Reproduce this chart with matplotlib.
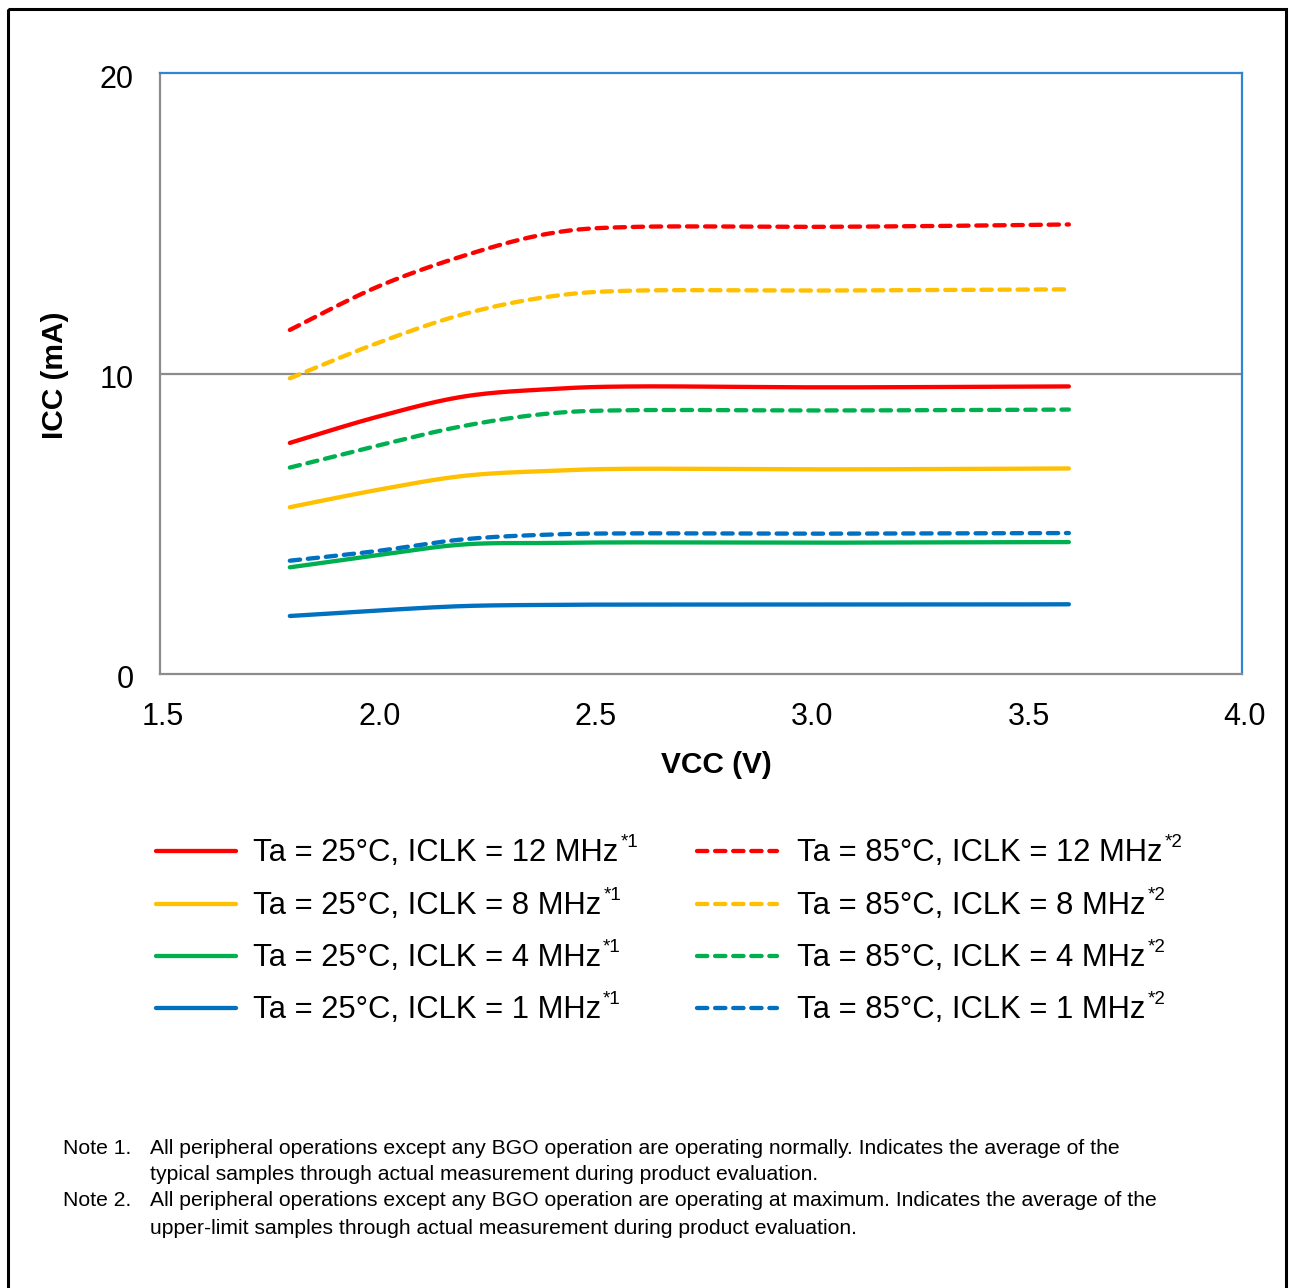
import numpy as np
import matplotlib
matplotlib.use("Agg")
import matplotlib.pyplot as plt
from matplotlib.lines import Line2D
from matplotlib.patches import Rectangle
from matplotlib.transforms import ScaledTranslation

plt.rcParams['font.family'] = ['Liberation Sans', 'DejaVu Sans']

# ---------------- data ----------------
vcc = [1.8, 2.0, 2.2, 2.4, 2.6, 3.0, 3.3, 3.6]
icc_25_12 = [7.69, 8.55, 9.23, 9.48, 9.57, 9.54, 9.55, 9.57]
icc_25_8 = [5.55, 6.12, 6.59, 6.76, 6.83, 6.81, 6.82, 6.84]
icc_25_4 = [3.55, 3.95, 4.31, 4.36, 4.38, 4.37, 4.38, 4.39]
icc_25_1 = [1.93, 2.11, 2.26, 2.30, 2.31, 2.31, 2.31, 2.32]
icc_85_12 = [11.45, 12.87, 13.91, 14.66, 14.88, 14.88, 14.91, 14.96]
icc_85_8 = [9.84, 11.00, 11.97, 12.56, 12.76, 12.76, 12.78, 12.80]
icc_85_4 = [6.87, 7.59, 8.25, 8.67, 8.78, 8.77, 8.78, 8.80]
icc_85_1 = [3.77, 4.09, 4.48, 4.64, 4.68, 4.67, 4.68, 4.69]

labels_25 = ["Ta = 25°C, ICLK = 12 MHz", "Ta = 25°C, ICLK = 8 MHz",
             "Ta = 25°C, ICLK = 4 MHz", "Ta = 25°C, ICLK = 1 MHz"]
labels_85 = ["Ta = 85°C, ICLK = 12 MHz", "Ta = 85°C, ICLK = 8 MHz",
             "Ta = 85°C, ICLK = 4 MHz", "Ta = 85°C, ICLK = 1 MHz"]
x_ticks = [1.5, 2.0, 2.5, 3.0, 3.5, 4.0]
x_ticklabels = ["1.5", "2.0", "2.5", "3.0", "3.5", "4.0"]
y_ticks = [0, 10, 20]
notes = [
    ("Note 1.", "All peripheral operations except any BGO operation are operating normally. Indicates the average of the",
     "typical samples through actual measurement during product evaluation."),
    ("Note 2.", "All peripheral operations except any BGO operation are operating at maximum. Indicates the average of the",
     "upper-limit samples through actual measurement during product evaluation."),
]

colors = ['#FF0000', '#FFC000', '#00B050', '#0070C0']
series_25 = [icc_25_12, icc_25_8, icc_25_4, icc_25_1]
series_85 = [icc_85_12, icc_85_8, icc_85_4, icc_85_1]


def smooth(xs, ys, n=40):
    """Excel-like smoothed line (Catmull-Rom Bezier)."""
    p = np.column_stack([xs, ys]).astype(float)
    sc = np.array([432.8, 30.05])
    p = p * sc
    out = []
    for i in range(len(p) - 1):
        p0 = p[i - 1] if i > 0 else p[i]
        p1 = p[i]
        p2 = p[i + 1]
        p3 = p[i + 2] if i + 2 < len(p) else p[i + 1]
        c1 = p1 + (p2 - p0) / 6.0
        c2 = p2 - (p3 - p1) / 6.0
        t = np.linspace(0, 1, n, endpoint=(i == len(p) - 2))[:, None]
        seg = ((1 - t) ** 3) * p1 + 3 * ((1 - t) ** 2) * t * c1 + 3 * (1 - t) * t ** 2 * c2 + t ** 3 * p2
        out.append(seg)
    out = np.vstack(out) / sc
    return out[:, 0], out[:, 1]


W, H = 1290, 1288
fig = plt.figure(figsize=(W / 100, H / 100), dpi=100)
fig.patch.set_facecolor('white')

L, R, T, B = 160, 1242, 73, 674
ax = fig.add_axes([L / W, 1 - B / H, (R - L) / W, (B - T) / H])
ax.set_xlim(1.5, 4.0)
ax.set_ylim(0, 20)

lw = 3.1
dash = (2.4, 1.8)
for c, s in zip(colors, series_25):
    sx, sy = smooth(vcc, s)
    ax.plot(sx, sy, color=c, lw=lw, solid_capstyle='round', zorder=3)
for c, s in zip(colors, series_85):
    sx, sy = smooth(vcc, s)
    ax.plot(sx, sy, color=c, lw=lw, linestyle=(0, dash), dash_capstyle='round', zorder=3)

ax.axhline(10, color='#8C8C8C', lw=1.6, zorder=1)

ax.set_xticks(x_ticks)
ax.set_xticklabels(x_ticklabels)
ax.set_yticks(y_ticks)
ax.tick_params(length=0, labelsize=22)
ax.tick_params(axis='y', pad=19)
ax.tick_params(axis='x', pad=20)
for lab in ax.get_yticklabels():
    lab.set_transform(lab.get_transform() + ScaledTranslation(0, -3 / 100, fig.dpi_scale_trans))
for lab in ax.get_xticklabels():
    lab.set_transform(lab.get_transform() + ScaledTranslation(3 / 100, 0, fig.dpi_scale_trans))
for side in ['left', 'bottom']:
    ax.spines[side].set_color('#8C8C8C')
    ax.spines[side].set_linewidth(1.6)
for side in ['top', 'right']:
    ax.spines[side].set_color('#2F86D3')
    ax.spines[side].set_linewidth(1.6)

# overlay in pixel coordinates
ov = fig.add_axes([0, 0, 1, 1])
ov.set_xlim(0, W)
ov.set_ylim(H, 0)
ov.axis('off')
ov.patch.set_visible(False)

ov.add_patch(Rectangle((8, 8.5), 1278, 1300, fill=False, edgecolor='black', lw=2.2))

ov.text(716, 765, "VCC (V)", fontsize=21.5, fontweight='bold', ha='center', va='center')
ov.text(55, 375, "ICC (mA)", fontsize=21.5, fontweight='bold', ha='center', va='center', rotation=90)

# legend
rows_y = [852, 905, 957, 1009]
fig.canvas.draw()
renderer = fig.canvas.get_renderer()
for col, (labels, ls, sup, lx0, tx0) in enumerate([
        (labels_25, '-', '*1', 156, 253),
        (labels_85, (0, dash), '*2', 697, 797)]):
    for yy, lab, c in zip(rows_y, labels, colors):
        ov.add_line(Line2D([lx0, lx0 + 80], [yy - 1, yy - 1], color=c, lw=lw, linestyle=ls,
                           solid_capstyle='round', dash_capstyle='round'))
        t = ov.text(tx0, yy + 1, lab, fontsize=22.3, ha='left', va='center')
        bb = t.get_window_extent(renderer=renderer)
        ov.text(bb.x1 + 2, yy - 1, sup, fontsize=13.5, ha='left', va='bottom')

# notes
ny = [1148, 1175, 1201, 1228]
k = 0
for head, l1, l2 in notes:
    ov.text(63, ny[k], head, fontsize=15.2, ha='left', va='center')
    ov.text(150, ny[k], l1, fontsize=15.2, ha='left', va='center')
    ov.text(150, ny[k + 1], l2, fontsize=15.2, ha='left', va='center')
    k += 2

fig.savefig("out.png", dpi=100, facecolor='white')
